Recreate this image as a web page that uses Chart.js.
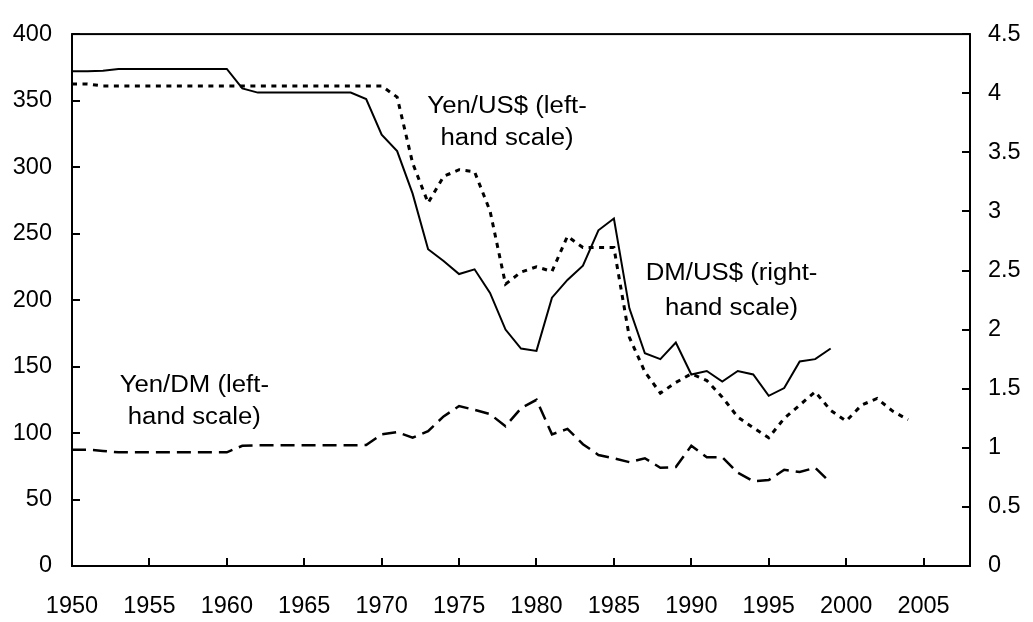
<!DOCTYPE html>
<html>
<head>
<meta charset="utf-8">
<script src="https://cdn.jsdelivr.net/npm/chart.js@4/dist/chart.umd.min.js"></script>
<style>
  html, body { margin: 0; padding: 0; background: #fff; }
  #wrap { width: 1033px; height: 622px; position: relative; }
</style>
</head>
<body>
<div id="wrap"><canvas id="c"></canvas></div>
<script>
// ---- Data ----
const yearsA = [];            // 1950..1999
for (let y = 1950; y <= 1999; y++) yearsA.push(y);
const yearsB = [];            // 1950..2004
for (let y = 1950; y <= 2004; y++) yearsB.push(y);

// DM per US$ (right-hand scale), 1950-1999
const dmPerUsd = [
  4.185, 4.185, 4.19, 4.205, 4.205, 4.205, 4.205, 4.205, 4.205, 4.205,
  4.205, 4.04, 4.005, 4.005, 4.005, 4.005, 4.005, 4.005, 4.005, 3.95,
  3.65, 3.51, 3.15, 2.68, 2.58, 2.47, 2.51, 2.31, 2.00, 1.84,
  1.82, 2.27, 2.42, 2.54, 2.84, 2.94, 2.18, 1.80, 1.75, 1.89,
  1.62, 1.65, 1.56, 1.65, 1.62, 1.44, 1.505, 1.73, 1.75, 1.84
];

// Yen per US$ (left-hand scale), 1950-2004
const yenPerUsd = [
  362.5, 362.5, 361, 361, 361, 361, 361, 361, 361, 361,
  361, 361, 361, 361, 361, 361, 361, 361, 361, 361,
  361, 352.6, 303, 273, 293, 298, 296.5, 267, 212, 221,
  225, 221.5, 248, 239.5, 239.5, 239.5, 172, 146, 130, 138,
  144.5, 139.5, 127, 112, 104, 96.5, 111, 121, 131, 117,
  109, 121, 126, 116.5, 110
];

// Yen per DM (left-hand scale), 1950-1999
const yenPerDm = [
  87.5, 87.5, 86.5, 85.5, 85.5, 85.5, 85.5, 85.5, 85.5, 85.5,
  85.5, 90.4, 90.8, 90.8, 90.8, 90.8, 90.8, 90.8, 90.8, 91,
  99, 100.7, 96.5, 101.4, 112.5, 120.3, 117.4, 114.2, 105.1, 118.6,
  125, 99, 103.1, 91.6, 83.5, 81, 78.1, 81, 73.9, 74.4,
  90.4, 81.8, 81.8, 70.2, 63.8, 64.6, 72.4, 70.7, 73.9, 62.6
];

// Tick labels / axis ranges
const xTickYears = [1950, 1955, 1960, 1965, 1970, 1975, 1980, 1985, 1990, 1995, 2000, 2005];
const xRange = { min: 1950, max: 2008 };
const leftTicks = { min: 0, max: 400, step: 50 };
const rightTicks = { min: 0, max: 4.5, step: 0.5 };

// Text annotations (anchored in data units)
const notes = [
  { lines: ['Yen/US$ (left-', 'hand scale)'], year: 1978.1, value: [345.5, 321.2] },
  { lines: ['DM/US$ (right-', 'hand scale)'], year: 1992.6, value: [219.5, 193.7] },
  { lines: ['Yen/DM (left-', 'hand scale)'], year: 1957.9, value: [135.8, 111.2] }
];

const FONT = '"Liberation Sans", Arial, Helvetica, sans-serif';

const toPts = (xs, ys) => xs.map((x, i) => ({ x: x, y: ys[i] }));

const framePlugin = {
  id: 'frame',
  afterDatasetsDraw(chart) {
    const ctx = chart.ctx;
    const a = chart.chartArea;
    const xs = chart.scales.x, yl = chart.scales.yL, yr = chart.scales.yR;
    ctx.save();
    ctx.strokeStyle = '#000';
    ctx.lineWidth = 2;
    ctx.lineCap = 'butt';
    ctx.strokeRect(a.left, a.top, a.right - a.left, a.bottom - a.top);
    const tl = 8;
    ctx.beginPath();
    xs.ticks.forEach(t => {
      const px = Math.round(xs.getPixelForValue(t.value));
      ctx.moveTo(px, a.bottom);
      ctx.lineTo(px, a.bottom - tl);
    });
    yl.ticks.forEach(t => {
      const py = Math.round(yl.getPixelForValue(t.value));
      ctx.moveTo(a.left, py);
      ctx.lineTo(a.left + tl, py);
    });
    yr.ticks.forEach(t => {
      const py = Math.round(yr.getPixelForValue(t.value));
      ctx.moveTo(a.right, py);
      ctx.lineTo(a.right - tl, py);
    });
    ctx.stroke();

    // annotations
    ctx.fillStyle = '#000';
    ctx.font = '23px ' + FONT;
    ctx.textAlign = 'center';
    ctx.textBaseline = 'middle';
    notes.forEach(n => {
      const px = xs.getPixelForValue(n.year);
      n.lines.forEach((line, i) => {
        const py = yl.getPixelForValue(n.value[i]);
        ctx.save();
        ctx.translate(px, py);
        ctx.scale(1.12, 1);
        ctx.fillText(line, 0, 0);
        ctx.restore();
      });
    });
    ctx.restore();
  }
};

new Chart(document.getElementById('c'), {
  type: 'line',
  data: {
    datasets: [
      {
        label: 'DM/US$',
        data: toPts(yearsA, dmPerUsd),
        yAxisID: 'yR',
        borderColor: '#000',
        borderWidth: 2,
        pointRadius: 0,
        tension: 0
      },
      {
        label: 'Yen/US$',
        data: toPts(yearsB, yenPerUsd),
        yAxisID: 'yL',
        borderColor: '#000',
        borderWidth: 3,
        borderDash: [5, 5.5],
        pointRadius: 0,
        tension: 0
      },
      {
        label: 'Yen/DM',
        data: toPts(yearsA, yenPerDm),
        yAxisID: 'yL',
        borderColor: '#000',
        borderWidth: 2.5,
        borderDash: [14, 7],
        pointRadius: 0,
        tension: 0
      }
    ]
  },
  options: {
    responsive: true,
    maintainAspectRatio: false,
    animation: false,
    layout: { padding: { top: 23, left: 0, right: 0, bottom: 0 } },
    plugins: { legend: { display: false }, tooltip: { enabled: false } },
    scales: {
      x: {
        type: 'linear',
        min: xRange.min, max: xRange.max,
        grid: { display: false, drawTicks: false },
        border: { display: false },
        afterBuildTicks(s) { s.ticks = xTickYears.map(v => ({ value: v })); },
        ticks: {
          padding: 26,
          color: '#000',
          font: { family: FONT, size: 23.5 },
          maxRotation: 0,
          autoSkip: false,
          callback: (v) => String(v)
        },
        afterFit(s) { s.height = 56; }
      },
      yL: {
        type: 'linear',
        position: 'left',
        min: leftTicks.min, max: leftTicks.max,
        grid: { display: false, drawTicks: false },
        border: { display: false },
        ticks: {
          stepSize: leftTicks.step,
          padding: 20,
          color: '#000',
          font: { family: FONT, size: 23.5 }
        },
        afterFit(s) { s.width = 72; }
      },
      yR: {
        type: 'linear',
        position: 'right',
        min: rightTicks.min, max: rightTicks.max,
        grid: { display: false, drawTicks: false },
        border: { display: false },
        ticks: {
          stepSize: rightTicks.step,
          padding: 18,
          color: '#000',
          font: { family: FONT, size: 23.5 },
          callback: (v) => String(Math.round(v * 10) / 10)
        },
        afterFit(s) { s.width = 63; }
      }
    }
  },
  plugins: [framePlugin]
});
</script>
</body>
</html>
